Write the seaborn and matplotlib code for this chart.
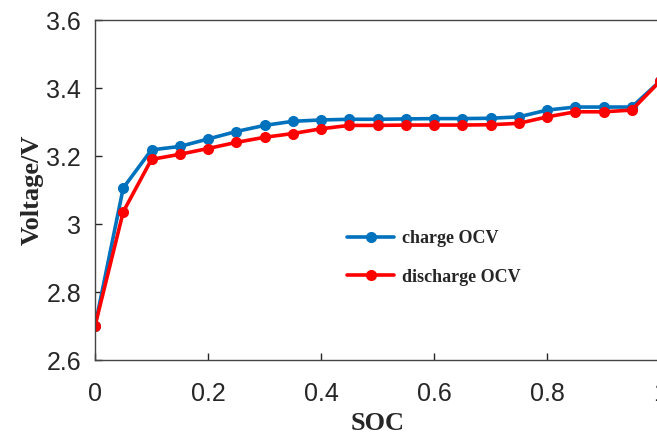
import numpy as np
import pandas as pd
import matplotlib
matplotlib.use("Agg")
import matplotlib.pyplot as plt
import seaborn as sns

soc = [0.0, 0.05, 0.10, 0.15, 0.20, 0.25, 0.30, 0.35, 0.40, 0.45, 0.50,
       0.55, 0.60, 0.65, 0.70, 0.75, 0.80, 0.85, 0.90, 0.95, 1.00]
charge_ocv = [2.700, 3.106, 3.218, 3.228, 3.250, 3.272, 3.290, 3.302, 3.306, 3.308, 3.308,
              3.309, 3.310, 3.310, 3.311, 3.315, 3.335, 3.344, 3.344, 3.344, 3.420]
discharge_ocv = [2.700, 3.036, 3.190, 3.205, 3.222, 3.240, 3.255, 3.266, 3.280, 3.290, 3.290,
                 3.291, 3.291, 3.291, 3.292, 3.296, 3.315, 3.330, 3.330, 3.335, 3.420]
series_names = ["charge OCV", "discharge OCV"]
series_colors = ["#0072BD", "#FF0000"]
x_ticks = [0, 0.2, 0.4, 0.6, 0.8, 1]
x_tick_labels = ["0", "0.2", "0.4", "0.6", "0.8", "1"]
y_ticks = [2.6, 2.8, 3.0, 3.2, 3.4, 3.6]
y_tick_labels = ["2.6", "2.8", "3", "3.2", "3.4", "3.6"]

df = pd.concat([
    pd.DataFrame({"SOC": soc, "Voltage": charge_ocv, "series": series_names[0]}),
    pd.DataFrame({"SOC": soc, "Voltage": discharge_ocv, "series": series_names[1]}),
])

sns.set_style("ticks")
plt.rcParams["font.family"] = ["Liberation Sans", "DejaVu Sans"]

fig = plt.figure(figsize=(6.57, 4.36), dpi=100)
ax = fig.add_axes([95 / 657, 76 / 436, 565 / 657, 340 / 436])

sns.lineplot(data=df, x="SOC", y="Voltage", hue="series", hue_order=series_names,
             palette=series_colors, marker="o", markersize=8, markeredgewidth=0,
             linewidth=2.6, ax=ax, legend=True)

ax.set_xlim(0, 1)
ax.set_ylim(2.6, 3.6)
ax.set_xticks(x_ticks)
ax.set_xticklabels(x_tick_labels)
ax.set_yticks(y_ticks)
ax.set_yticklabels(y_tick_labels)
ax.tick_params(direction="in", length=5, width=1, labelsize=18, colors="#262626",
               top=False, right=False)
ax.tick_params(axis="x", pad=16)
ax.tick_params(axis="y", pad=10)
for s in ax.spines.values():
    s.set_color("#444444")
    s.set_linewidth(1)

ax.set_xlabel("SOC", fontsize=19, fontweight="bold", family="Liberation Serif", labelpad=4)
ax.set_ylabel("Voltage/V", fontsize=19, fontweight="bold", family="Liberation Serif", labelpad=2)

leg = ax.legend(loc="upper left", bbox_to_anchor=(0.418, 0.43), frameon=False,
                handlelength=2.6, handletextpad=0.45, labelspacing=1.2,
                prop={"family": "Liberation Serif", "weight": "bold", "size": 13})

fig.savefig("out.png", dpi=100)
